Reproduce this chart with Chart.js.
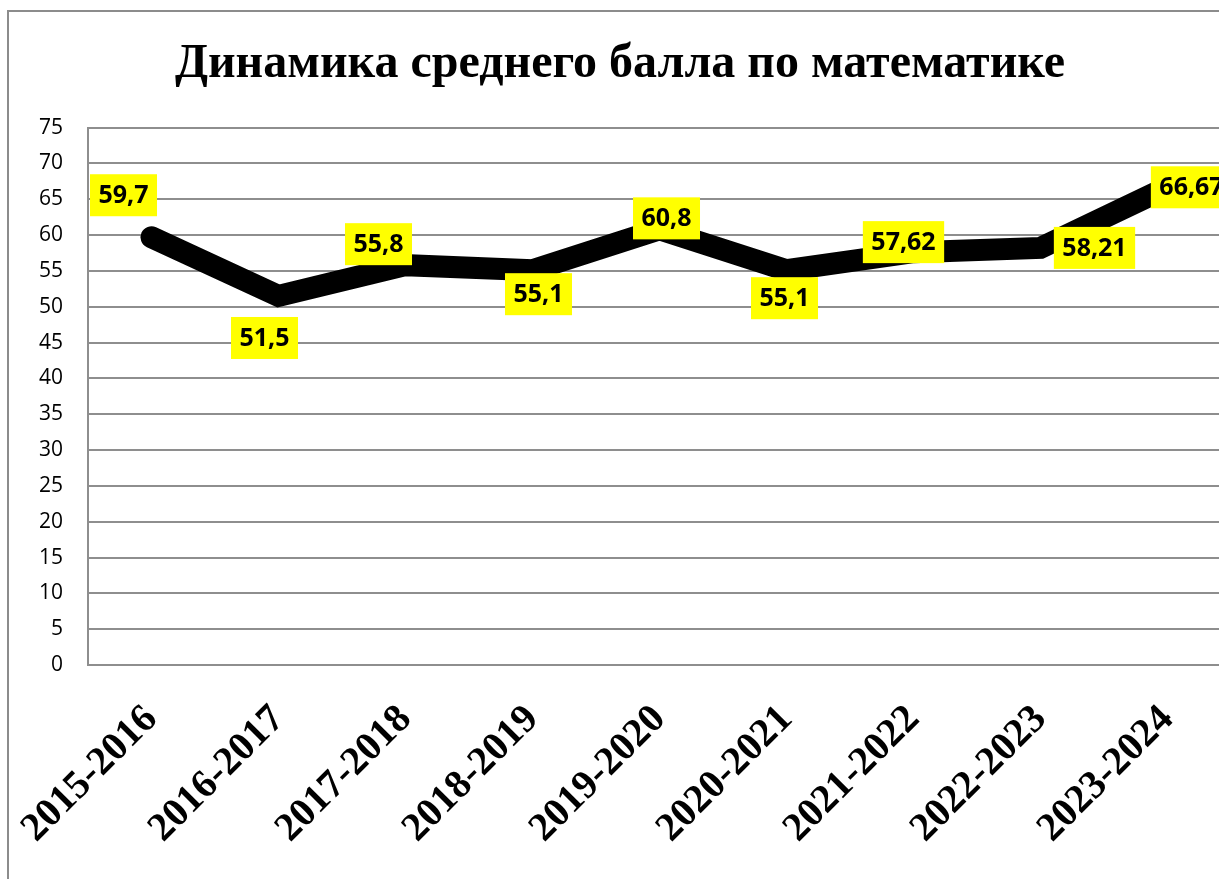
<!DOCTYPE html>
<html>
<head>
<meta charset="utf-8">
<script src="https://cdn.jsdelivr.net/npm/chart.js@4/dist/chart.umd.min.js"></script>
<style>
  html, body { margin: 0; padding: 0; background: #fff; overflow: hidden; }
  #frame {
    position: absolute; left: 7px; top: 10px;
    width: 1260px; height: 900px;
    border: 2px solid #8c8c8c;
  }
  #wrap { position: absolute; left: 0; top: 0; width: 1250px; height: 880px; }
</style>
</head>
<body>
<div id="frame">
  <div id="wrap"><canvas id="chart"></canvas></div>
</div>
<script>
let categories = ['2015-2016', '2016-2017', '2017-2018', '2018-2019', '2019-2020',
  '2020-2021', '2021-2022', '2022-2023', '2023-2024'];
let scores = [59.7, 51.5, 55.8, 55.1, 60.8, 55.1, 57.62, 58.21, 66.67];
let yMin = 0;
let yMax = 75;
let yStep = 5;

// where each value box sits relative to its point (px)
let labelOffsets = [[-28, -42], [-14, 42], [-27, -21], [6, 24], [7, -11],
  [-2, 28], [-10, -10], [54, 0], [24, 0]];

let serif = 'Liberation Serif';
let sans = 'Open Sans';

let valueBoxes = {
  id: 'valueBoxes',
  afterDatasetsDraw: (chart) => {
    let ctx = chart.ctx;
    let meta = chart.getDatasetMeta(0);
    ctx.save();
    ctx.font = 'bold 25px ' + sans;
    ctx.textAlign = 'center';
    ctx.textBaseline = 'middle';
    meta.data.forEach((pt, i) => {
      let text = String(scores[i]).replace('.', ',');
      let cx = pt.x + labelOffsets[i][0];
      let cy = pt.y + labelOffsets[i][1];
      let w = ctx.measureText(text).width + 17;
      let h = 42;
      ctx.fillStyle = '#ffff00';
      ctx.fillRect(cx - w / 2, cy - h / 2, w, h);
      ctx.fillStyle = '#000';
      ctx.fillText(text, cx, cy + 1);
    });
    ctx.restore();
  },
};

let drawChart = () => {
  new Chart(document.getElementById('chart'), {
    type: 'line',
    data: {
      labels: categories,
      datasets: [{
        data: scores,
        borderColor: '#000',
        borderWidth: 22,
        borderCapStyle: 'round',
        borderJoinStyle: 'miter',
        pointRadius: 0,
        tension: 0,
      }],
    },
    options: {
      responsive: true,
      maintainAspectRatio: false,
      animation: false,
      layout: { padding: { left: 0, right: 28, top: 0, bottom: 0 } },
      plugins: {
        legend: { display: false },
        tooltip: { enabled: false },
        title: {
          display: true,
          text: 'Динамика среднего балла по математике',
          color: '#000',
          font: { family: serif, size: 48, weight: 'bold' },
          padding: { top: 24, bottom: 34 },
        },
      },
      scales: {
        x: {
          offset: true,
          grid: { display: false, drawTicks: false },
          border: { display: false },
          ticks: {
            color: '#000',
            minRotation: 45,
            maxRotation: 45,
            padding: 31,
            font: { family: serif, size: 40, weight: 'bold' },
          },
          afterFit: (scale) => {
            scale.height = 227;
            scale.paddingLeft = 0;
            scale.paddingRight = 0;
          },
        },
        y: {
          min: yMin,
          max: yMax,
          grid: { color: '#8e8e8e', lineWidth: 2, drawTicks: false },
          border: { display: true, color: '#8e8e8e', width: 2 },
          ticks: {
            stepSize: yStep,
            color: '#000',
            padding: 25,
            font: { family: sans, size: 21 },
          },
          afterFit: (scale) => { scale.width = 79; },
        },
      },
    },
    plugins: [valueBoxes],
  });
};

Promise.all([
  document.fonts.load('bold 40px "' + serif + '"'),
  document.fonts.load('bold 25px "' + sans + '"'),
  document.fonts.load('21px "' + sans + '"'),
]).then(drawChart, drawChart);
</script>
</body>
</html>
